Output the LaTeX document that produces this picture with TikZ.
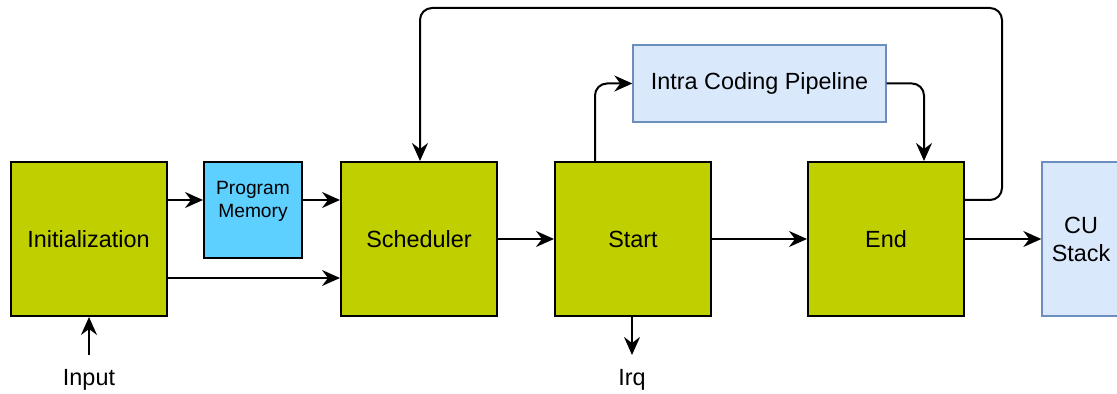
\documentclass[tikz,border=0pt]{standalone}
\usepackage{fontspec}
\setmainfont{Liberation Sans}
\usetikzlibrary{arrows.meta}

\definecolor{lime}{HTML}{BFCF00}
\definecolor{paleblue}{HTML}{DAE8FC}
\definecolor{paleedge}{HTML}{6C8EBF}
\definecolor{skyblue}{HTML}{5DD0FF}

\tikzstyle{block} = [draw=black, fill=lime, line width=1pt, inner sep=0pt, minimum width=78pt, minimum height=77pt, font=\fontsize{11.7}{14}\selectfont]
\tikzstyle{mem} = [draw=black, fill=skyblue, line width=1pt, inner sep=0pt, minimum width=49pt, minimum height=48pt, font=\fontsize{9.6}{12}\selectfont]
\tikzstyle{pipe} = [draw=paleedge, fill=paleblue, line width=0.7pt, inner sep=0pt, align=center, font=\fontsize{11.7}{14}\selectfont]
\tikzstyle{link} = [line width=1pt, -{Stealth[length=9pt, width=8pt, inset=3pt]}]

\begin{document}
\begin{tikzpicture}[x=0.5pt, y=-0.5pt]
      \useasboundingbox (0,0) rectangle (1117,394);
      \node[block] (init) at (88.5,239) {Initialization};
      \node[mem] (progmem) at (253,210) {\raisebox{11pt}{\shortstack{Program\\Memory}}};
      \node[block] (sched) at (419,239) {Scheduler};
      \node[block] (start) at (633,239) {Start};
      \node[block] (fin) at (886,239) {End};
      \node[pipe, minimum width=39pt, minimum height=77pt] (cu) at (1081,239) {CU\\Stack};
      \node[pipe, minimum width=126.5pt, minimum height=38.5pt] (intra) at (759.5,83.5) {Intra Coding Pipeline};
      \node[font=\fontsize{11.7}{14}\selectfont] (input) at (89,380) {Input};
      \node[font=\fontsize{11.7}{14}\selectfont] (irq) at (632,380) {Irq};
      \coordinate (in) at (89,355);
      \coordinate (out) at (632,355);
      \draw[link] (init.east |- 0,200) -- (progmem.west |- 0,200);
      \draw[link] (progmem.east |- 0,200) -- (sched.west |- 0,200);
      \draw[link] (init.east |- 0,278) -- (sched.west |- 0,278);
      \draw[link] (sched.east) -- (start.west);
      \draw[link] (start.east) -- (fin.west);
      \draw[link] (fin.east) -- (cu.west);
      \draw[link, rounded corners=6pt] (start.north -| 595,0) |- (intra.west);
      \draw[link, rounded corners=6pt] (intra.east) -| (fin.north -| 924,0);
      \draw[link, rounded corners=6pt] (fin.east |- 0,200) -- (1002,200) -- (1002,8) -| (sched.north -| 420,0);
      \draw[link] (in) -- (init.south -| in);
      \draw[link] (start.south -| out) -- (out);
    \end{tikzpicture}
\end{document}
